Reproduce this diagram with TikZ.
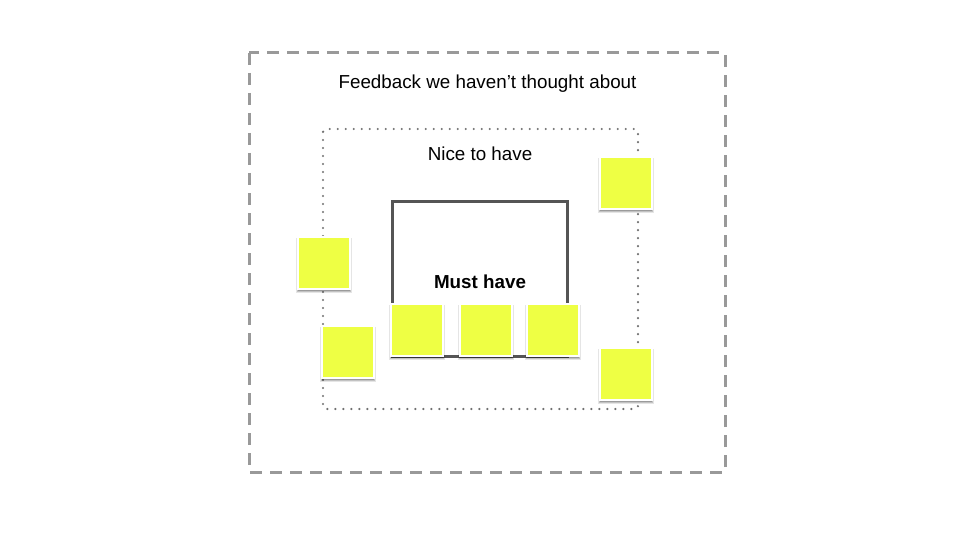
\documentclass[tikz,border=0pt]{standalone}
\usepackage{fontspec}
\setmainfont{Liberation Sans}
\usetikzlibrary{shadows}
\definecolor{sticky}{HTML}{EEFF44}
\definecolor{dashgray}{HTML}{999999}
\definecolor{dotgray}{HTML}{707070}
\definecolor{boxgray}{HTML}{555555}
\tikzset{
  note/.style={draw=white, line width=1.5pt, fill=sticky, minimum width=52pt, minimum height=52pt, inner sep=0pt,
    drop shadow={shadow xshift=0pt, shadow yshift=-2.5pt, shadow scale=1.07, opacity=0.10, fill=black},
    drop shadow={shadow xshift=0pt, shadow yshift=-2pt, shadow scale=1.035, opacity=0.15, fill=black},
    drop shadow={shadow xshift=0.3pt, shadow yshift=-1.5pt, opacity=0.2, fill=black}},
  lbl/.style={font=\fontsize{18.8}{22}\selectfont, inner sep=0pt, anchor=base}
}
\begin{document}
\begin{tikzpicture}[x=1pt,y=-1pt]
\useasboundingbox[fill=white] (0,0) rectangle (960,540);
\draw[dashgray, line width=3pt, dash pattern=on 12pt off 8pt] (249,53) rectangle (725,472);
\draw[dotgray, line width=2.4pt, line cap=round, dash pattern=on 0pt off 8pt, rounded corners=3pt] (323,129) rectangle (638,409);
\draw[boxgray, line width=3pt] (392,201) rectangle (567,356);
\node[lbl] (fb) at (487.5,88.3) {Feedback we haven’t thought about};
\node[lbl] (nice) at (480,160.7) {Nice to have};
\node[lbl, font=\fontsize{18.8}{22}\selectfont\bfseries] (must) at (480,288.7) {Must have};
\node[note] (s1) at (626,183) {};
\node[note] (s2) at (324,263) {};
\node[note] (s3) at (348,352) {};
\node[note] (s4) at (417,330) {};
\node[note] (s5) at (486,330) {};
\node[note] (s6) at (553,330) {};
\node[note] (s7) at (626,374) {};
\end{tikzpicture}
\end{document}
